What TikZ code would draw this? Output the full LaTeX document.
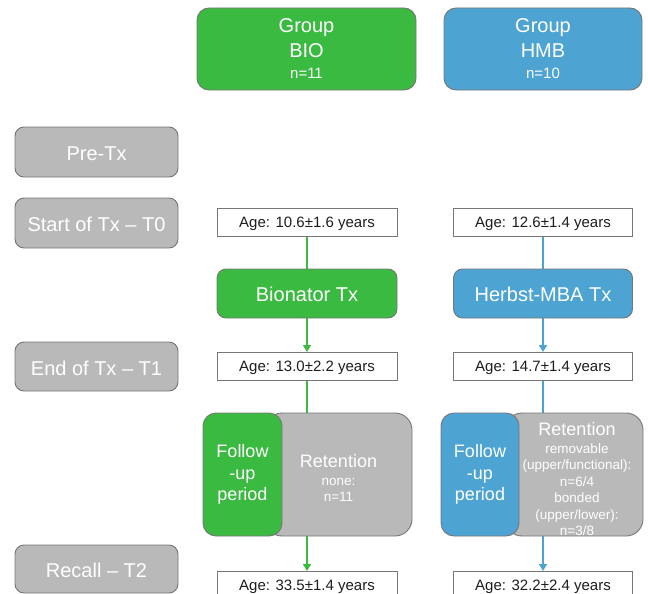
\documentclass[tikz,border=0pt]{standalone}
\usepackage{fontspec}
\setmainfont{Liberation Sans}
\usetikzlibrary{arrows.meta,backgrounds}
\definecolor{bgreen}{RGB}{59,186,65}
\definecolor{hblue}{RGB}{77,164,210}
\definecolor{gfill}{RGB}{185,185,185}
\definecolor{gline}{RGB}{118,118,118}
\definecolor{tdark}{RGB}{30,30,30}
\tikzset{
  every node/.style={inner sep=0pt, outer sep=0pt},
  groupbox/.style={draw=gline, line width=0.9pt, rounded corners=12pt, text=white, align=center,
    font=\fontsize{20}{24}\selectfont, minimum height=82pt},
  sidebox/.style={draw=gline, line width=0.9pt, fill=gfill, rounded corners=9pt, text=white,
    font=\fontsize{20}{24}\selectfont, minimum width=163pt, text height=17.5pt, text depth=0pt},
  agebox/.style={draw=gline, line width=0.8pt, fill=white, text=tdark,
    font=\fontsize{15}{18}\selectfont, minimum height=28pt, text height=14.5pt, text depth=3.3pt},
  txbox/.style={draw=gline, line width=0.9pt, rounded corners=9pt, text=white,
    font=\fontsize{20}{24}\selectfont, minimum width=180pt, minimum height=49pt,
    text height=16.4pt, text depth=0pt},
  fubox/.style={draw=gline, line width=0.9pt, rounded corners=13pt, text=white, align=center,
    font=\fontsize{18}{21.7}\selectfont, minimum height=123pt},
  retbox/.style={draw=gline, line width=0.9pt, fill=gfill, rounded corners=17pt, minimum height=123pt},
  rettext/.style={text=white, align=center, font=\fontsize{13.5}{16.4}\selectfont},
  conn/.style={line width=1.5pt},
  arr/.style={conn, -{Triangle[width=8pt,length=7pt]}}
}
\begin{document}
\begin{tikzpicture}[x=1pt,y=-1pt]
\useasboundingbox (0,0) rectangle (648,594);
% groups
\node[groupbox, fill=bgreen, minimum width=219pt] (gbio) at (306.5,49)
  {Group\\[1pt]BIO\\[-3pt]{\fontsize{15}{18}\selectfont n=11}};
\node[groupbox, fill=hblue, minimum width=198pt] (ghmb) at (543,49)
  {Group\\[1pt]HMB\\[-3pt]{\fontsize{15}{18}\selectfont n=10}};
% side timeline
\node[sidebox, minimum height=50pt] (pre) at (96.5,152) {Pre-Tx};
\node[sidebox, minimum height=50pt] (t0) at (96.5,223) {Start of Tx -- T0};
\node[sidebox, minimum height=49pt] (t1) at (96.5,366.5) {End of Tx -- T1};
\node[sidebox, minimum height=48pt] (t2) at (96.5,569) {Recall -- T2};
% BIO column
\node[agebox, minimum width=180pt] (a0b) at (307,222) {Age: 10.6±1.6 years};
\node[txbox, fill=bgreen] (txb) at (307,293.5) {Bionator Tx};
\node[agebox, minimum width=180pt] (a1b) at (307,366) {Age: 13.0±2.2 years};
\node[retbox, minimum width=147pt] (rb) at (338.5,474.5) {};
\node[rettext] (rbt) at (338.5,478) {{\fontsize{18}{21}\selectfont Retention}\\[1pt]none:\\n=11};
\node[fubox, fill=bgreen, minimum width=79pt] (fb) at (242.5,474.5) {Follow\\-up\\period};
\node[agebox, minimum width=180pt] (a2b) at (307,585) {Age: 33.5±1.4 years};
% HMB column
\node[agebox, minimum width=179pt] (a0h) at (543,222) {Age: 12.6±1.4 years};
\node[txbox, fill=hblue, minimum width=179pt] (txh) at (543,293.5) {Herbst-MBA Tx};
\node[agebox, minimum width=179pt] (a1h) at (543,366) {Age: 14.7±1.4 years};
\node[retbox, minimum width=138pt] (rh) at (574,474.5) {};
\node[rettext] (rht) at (577,479) {{\fontsize{18}{21}\selectfont Retention}\\[1.5pt]removable\\(upper/functional):\\n=6/4\\bonded\\(upper/lower):\\n=3/8};
\node[fubox, fill=hblue, minimum width=78pt] (fh) at (480,474.5) {Follow\\-up\\period};
\node[agebox, minimum width=179pt] (a2h) at (543,585) {Age: 32.2±2.4 years};
% connectors
\begin{pgfonlayer}{background}
\draw[conn, bgreen] (a0b.south) -- (txb.north);
\draw[arr, bgreen] (txb.south) -- (a1b.north);
\draw[arr, bgreen] (a1b.south) -- (a2b.north);
\draw[conn, hblue] (a0h.south) -- (txh.north);
\draw[arr, hblue] (txh.south) -- (a1h.north);
\draw[arr, hblue] (a1h.south) -- (a2h.north);
\end{pgfonlayer}
\end{tikzpicture}
\end{document}
